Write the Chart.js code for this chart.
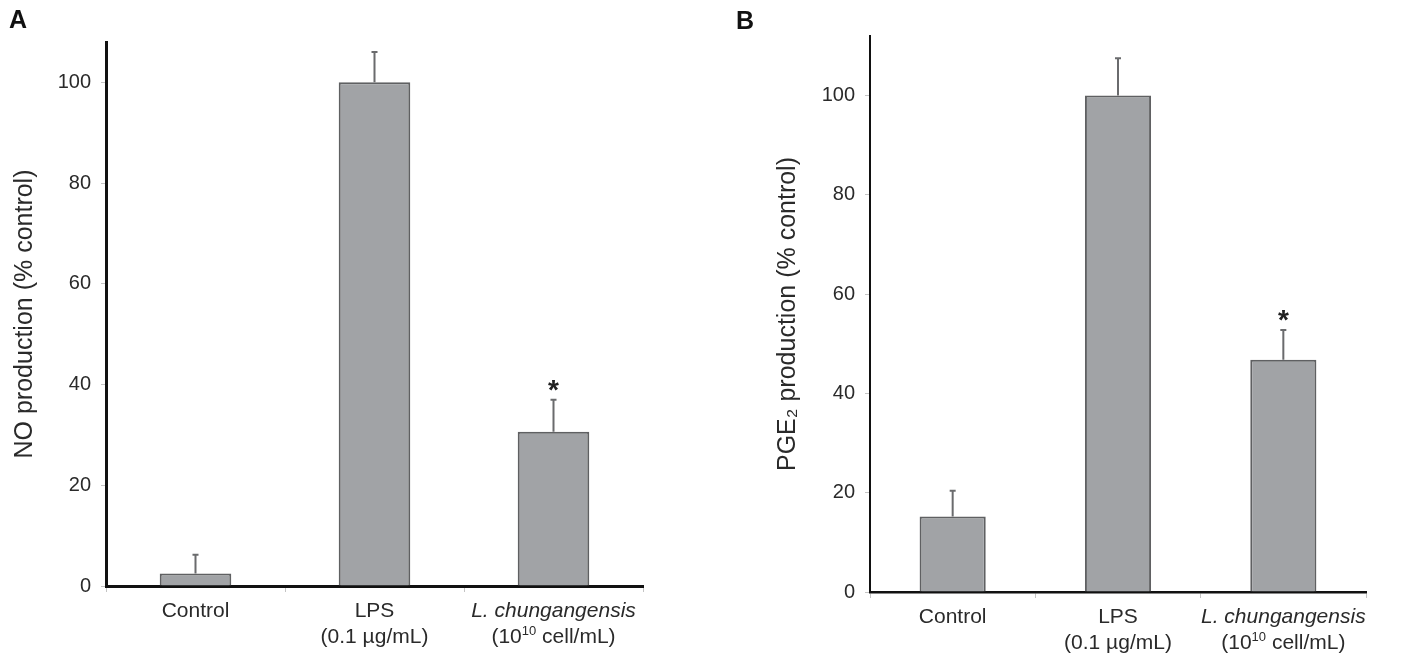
<!DOCTYPE html>
<html>
<head>
<meta charset="utf-8">
<script src="https://cdn.jsdelivr.net/npm/chart.js@4.4.1/dist/chart.umd.min.js"></script>
<style>
  body { margin: 0; background: #fff; }
  .panel { position: absolute; top: 0; height: 661px; }
  #wrapA { left: 0; width: 700px; }
  #wrapB { left: 700px; width: 701px; }
  .tag { position: absolute; font: bold 25px "Liberation Sans", Arial, sans-serif; color: #111; }
</style>
</head>
<body>
<div class="panel" id="wrapA"><canvas id="chartA"></canvas></div>
<div class="panel" id="wrapB"><canvas id="chartB"></canvas></div>
<div class="tag" style="left:9px;top:5px;">A</div>
<div class="tag" style="left:736px;top:6px;">B</div>
<script>
// categories and values
var categories = ["Control", "LPS", "L. chungangensis"];
var doseLabels = ["", "(0.1 \u00b5g/mL)", "(10^10 cell/mL)"];
var noValues = [2.5, 100, 30.6];
var noErrors = [3.7, 6, 6.4];
var pgeValues = [15.2, 100, 46.8];
var pgeErrors = [5.2, 7.5, 6];
var significant = [false, false, true];
var yTicks = [0, 20, 40, 60, 80, 100];

var FONT = '"Liberation Sans", Arial, sans-serif';

// error bars (upper only), stars, x labels
var extras = {
  id: 'extras',
  afterDatasetsDraw: function(chart) {
    var ctx = chart.ctx;
    var x = chart.scales.x, y = chart.scales.y;
    var vals = chart.data.datasets[0].data;
    var errs = chart.options.plugins.extras.errors;
    ctx.save();
    for (var i = 0; i < vals.length; i++) {
      var cx = x.getPixelForValue(i);
      var top = y.getPixelForValue(vals[i]);
      var et = y.getPixelForValue(vals[i] + errs[i]);
      ctx.strokeStyle = '#6a6b6d';
      ctx.lineWidth = 2;
      ctx.beginPath();
      ctx.moveTo(cx, top);
      ctx.lineTo(cx, et);
      ctx.moveTo(cx - 3, et);
      ctx.lineTo(cx + 3, et);
      ctx.stroke();
      if (significant[i]) {
        ctx.fillStyle = '#222';
        ctx.font = 'bold 28px ' + FONT;
        ctx.textAlign = 'center';
        ctx.textBaseline = 'alphabetic';
        ctx.fillText('*', cx, et - 1);
      }
    }
    ctx.restore();
  },
  afterDraw: function(chart) {
    var ctx = chart.ctx;
    var x = chart.scales.x;
    var base = chart.chartArea.bottom;
    ctx.save();
    ctx.fillStyle = '#2a2a2a';
    ctx.textBaseline = 'middle';
    for (var i = 0; i < categories.length; i++) {
      var cx = x.getPixelForValue(i);
      ctx.textAlign = 'center';
      ctx.font = (i === 2 ? 'italic ' : '') + '21px ' + FONT;
      ctx.fillText(categories[i], cx, base + 25);
      var d = doseLabels[i];
      if (!d) continue;
      var y2 = base + 51;
      if (d.indexOf('^') < 0) {
        ctx.font = '21px ' + FONT;
        ctx.fillText(d, cx, y2);
      } else {
        var a = '(10', sup = '10', b = ' cell/mL)';
        ctx.font = '21px ' + FONT;
        var wa = ctx.measureText(a).width, wb = ctx.measureText(b).width;
        ctx.font = '13px ' + FONT;
        var ws = ctx.measureText(sup).width;
        var sx = cx - (wa + ws + wb) / 2;
        ctx.textAlign = 'left';
        ctx.font = '21px ' + FONT;
        ctx.fillText(a, sx, y2);
        ctx.font = '13px ' + FONT;
        ctx.fillText(sup, sx + wa, y2 - 6);
        ctx.font = '21px ' + FONT;
        ctx.fillText(b, sx + wa + ws, y2);
      }
    }
    ctx.restore();
  }
};

function makeChart(id, values, errors, title, opt) {
  return new Chart(document.getElementById(id), {
    type: 'bar',
    data: {
      labels: categories,
      datasets: [{
        data: values,
        backgroundColor: '#a1a3a6',
        borderColor: '#5f6062',
        borderWidth: 2,
        barPercentage: 0.4,
        categoryPercentage: 1
      }]
    },
    options: {
      responsive: true,
      maintainAspectRatio: false,
      animation: false,
      layout: { padding: { left: opt.padLeft, top: opt.top, right: opt.padRight, bottom: 0 } },
      plugins: { legend: { display: false }, tooltip: { enabled: false }, extras: { errors: errors } },
      scales: {
        x: {
          ticks: { display: false },
          grid: { offset: true, drawOnChartArea: false, drawTicks: true, tickLength: 6, color: '#c4c4c4' },
          border: { color: '#111', width: opt.xWidth },
          afterFit: function(s) { s.height = opt.bottom; }
        },
        y: {
          min: 0,
          max: opt.max,
          afterBuildTicks: function(s) { s.ticks = yTicks.map(function(v) { return { value: v }; }); },
          ticks: { color: '#2a2a2a', font: { family: FONT, size: 20 }, padding: 10 },
          grid: { drawOnChartArea: false, tickLength: 5, color: '#c4c4c4' },
          border: { color: '#111', width: opt.yWidth },
          title: { display: true, text: title, color: '#2a2a2a', font: { family: FONT, size: 25 }, padding: { top: 2, bottom: 0 } },
          afterFit: function(s) { s.width = opt.yW; }
        }
      }
    },
    plugins: [extras]
  });
}

makeChart('chartA', noValues, noErrors, 'NO production (% control)',
  { padLeft: 8, yW: 98, top: 42, padRight: 57, bottom: 75, max: 108, xWidth: 3, yWidth: 3 });
makeChart('chartB', pgeValues, pgeErrors, 'PGE\u2082 production (% control)',
  { padLeft: 71, yW: 99, top: 36, padRight: 35, bottom: 69, max: 112, xWidth: 2.5, yWidth: 2 });
</script>
</body>
</html>
